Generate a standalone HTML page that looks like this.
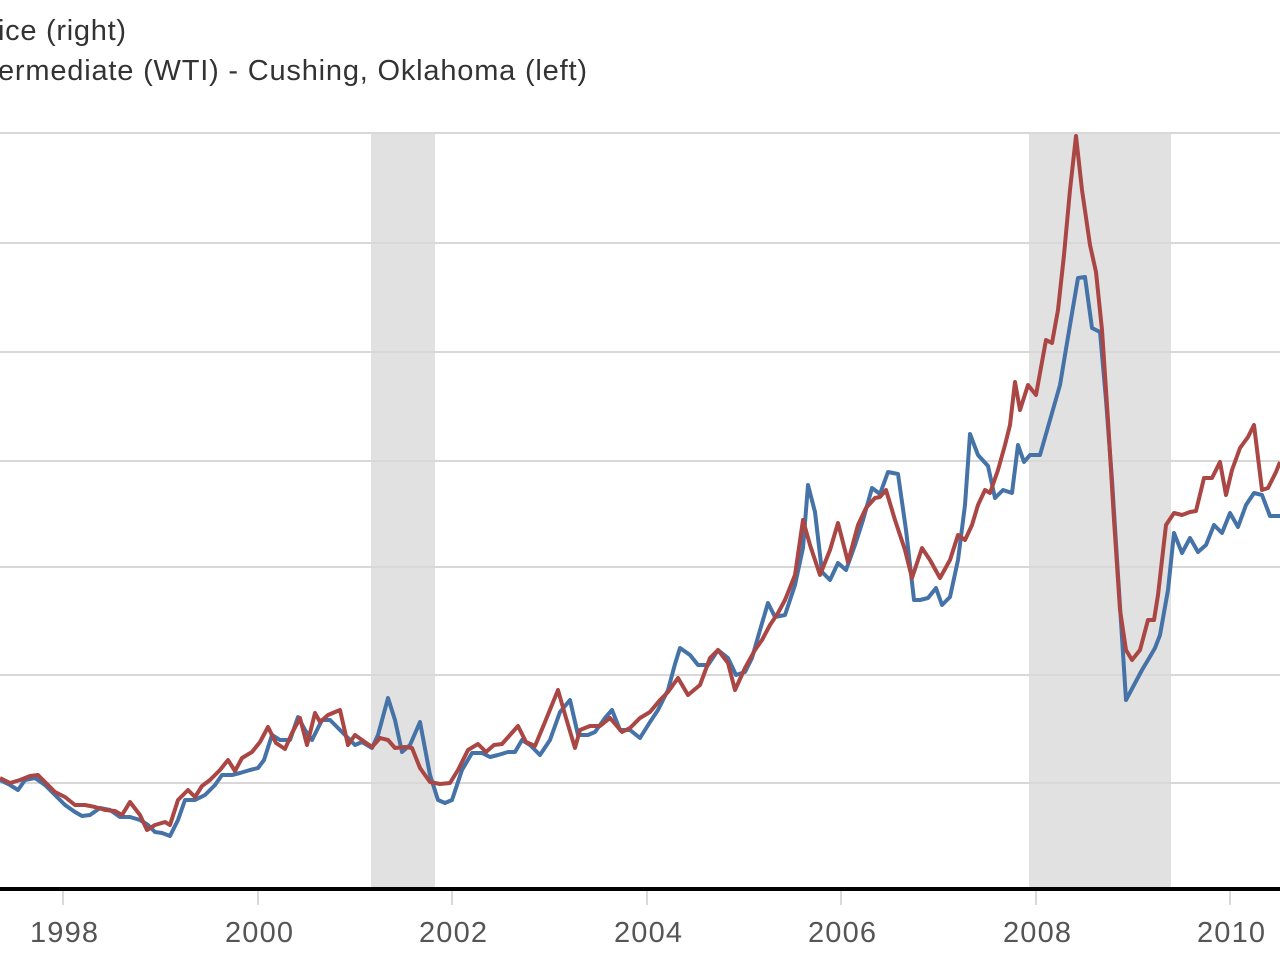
<!DOCTYPE html>
<html><head><meta charset="utf-8"><style>
html,body{margin:0;padding:0;background:#fff;width:1280px;height:960px;overflow:hidden}
svg{display:block}
text{font-family:"Liberation Sans",sans-serif;fill:#333}
</style></head><body>
<svg width="1280" height="960" viewBox="0 0 1280 960">
<rect x="371" y="133" width="64" height="755" fill="#e1e1e1"/>
<rect x="1029" y="133" width="142" height="755" fill="#e1e1e1"/>
<g stroke="#d8d8d8" stroke-width="2">
<line x1="0" x2="1280" y1="133" y2="133"/><line x1="0" x2="1280" y1="243" y2="243"/>
<line x1="0" x2="1280" y1="352" y2="352"/><line x1="0" x2="1280" y1="461" y2="461"/>
<line x1="0" x2="1280" y1="567" y2="567"/><line x1="0" x2="1280" y1="675" y2="675"/>
<line x1="0" x2="1280" y1="783" y2="783"/>
</g>
<line x1="0" x2="1280" y1="889" y2="889" stroke="#000" stroke-width="4"/>
<g stroke="#ccc" stroke-width="1.5">
<line x1="63" x2="63" y1="891" y2="905"/><line x1="258" x2="258" y1="891" y2="905"/>
<line x1="452" x2="452" y1="891" y2="905"/><line x1="647" x2="647" y1="891" y2="905"/>
<line x1="841" x2="841" y1="891" y2="905"/><line x1="1036" x2="1036" y1="891" y2="905"/>
<line x1="1230" x2="1230" y1="891" y2="905"/>
</g>
<g font-size="29" text-anchor="middle">
<text x="64" y="942" textLength="68" style="fill:#555">1998</text><text x="259" y="942" textLength="68" style="fill:#555">2000</text>
<text x="453" y="942" textLength="68" style="fill:#555">2002</text><text x="648" y="942" textLength="68" style="fill:#555">2004</text>
<text x="842" y="942" textLength="68" style="fill:#555">2006</text><text x="1037" y="942" textLength="68" style="fill:#555">2008</text>
<text x="1231" y="942" textLength="68" style="fill:#555">2010</text>
</g>
<text x="-2" y="40" font-size="29" textLength="128">ice (right)</text>
<text x="-2" y="80" font-size="29" textLength="589">ermediate (WTI) - Cushing, Oklahoma (left)</text>
<polyline fill="none" stroke="#4572a7" stroke-width="4" stroke-linejoin="round" points="0,780 10,785 18,790 25,780 35,778 45,785 55,795 65,805 75,812 82,816 90,815 100,808 110,810 120,817 130,817 140,820 148,825 155,832 162,833 170,836 178,820 185,800 195,800 205,795 215,785 222,775 232,775 240,773 250,770 258,768 264,760 272,735 280,740 290,740 298,717 305,730 312,740 322,720 330,720 338,728 345,735 355,745 362,742 372,748 378,735 388,698 395,720 402,752 410,745 420,722 430,775 438,800 445,803 452,800 462,770 472,753 482,753 490,757 498,755 508,752 515,752 522,740 530,745 540,755 550,740 560,712 570,700 578,735 588,735 595,732 605,718 612,710 620,730 630,730 640,738 650,722 658,710 668,690 675,664 680,648 690,655 698,665 708,665 718,650 728,658 736,675 745,672 752,658 760,630 768,603 775,617 785,615 795,585 803,548 808,485 815,512 822,572 830,580 838,563 846,570 855,545 863,520 872,488 880,494 888,472 898,474 906,530 914,600 920,600 928,598 936,588 942,605 950,597 958,560 965,505 970,434 978,455 988,466 995,498 1003,490 1012,493 1018,445 1024,462 1030,455 1040,455 1050,420 1060,385 1070,325 1078,278 1085,277 1092,328 1100,332 1106,400 1112,480 1118,575 1126,700 1134,685 1142,670 1148,660 1155,648 1160,635 1168,590 1174,533 1182,553 1190,538 1198,552 1206,545 1214,525 1222,533 1230,513 1238,527 1246,505 1254,493 1262,495 1270,516 1280,516"/>
<polyline fill="none" stroke="#aa4643" stroke-width="4" stroke-linejoin="round" points="0,778 10,783 20,780 30,776 38,775 45,782 55,792 65,797 75,805 85,805 95,807 105,810 115,811 122,815 130,802 140,815 147,830 155,825 165,822 170,825 178,800 188,790 195,797 202,786 210,780 220,770 228,760 235,771 242,758 252,752 260,742 268,727 276,743 285,749 292,733 300,718 307,745 315,713 320,722 328,715 340,710 348,745 355,735 362,740 372,747 380,738 388,740 395,748 405,747 412,748 420,768 430,782 440,784 450,783 458,770 468,750 478,744 486,752 494,745 502,744 510,735 518,726 526,742 535,746 545,722 558,690 566,718 575,748 580,730 590,726 600,726 610,718 622,732 630,728 640,718 650,712 660,700 668,692 678,678 688,695 700,685 710,658 718,650 728,663 735,690 745,668 755,650 762,640 770,625 778,613 785,600 795,575 803,520 810,545 820,575 830,550 838,523 848,562 858,525 866,508 875,498 880,497 886,490 895,520 905,550 912,578 922,548 930,560 940,578 950,560 958,535 965,540 972,525 978,505 985,490 990,493 998,470 1005,445 1010,425 1015,382 1020,410 1028,385 1036,395 1046,340 1052,343 1058,310 1064,255 1070,190 1076,136 1082,190 1090,245 1096,272 1102,330 1108,420 1114,520 1120,610 1126,650 1132,660 1140,650 1148,620 1154,620 1158,595 1166,525 1174,513 1182,515 1190,512 1196,511 1204,478 1212,478 1220,462 1226,495 1232,470 1240,448 1248,437 1254,425 1262,490 1268,488 1276,472 1280,462"/>
</svg>
</body></html>
